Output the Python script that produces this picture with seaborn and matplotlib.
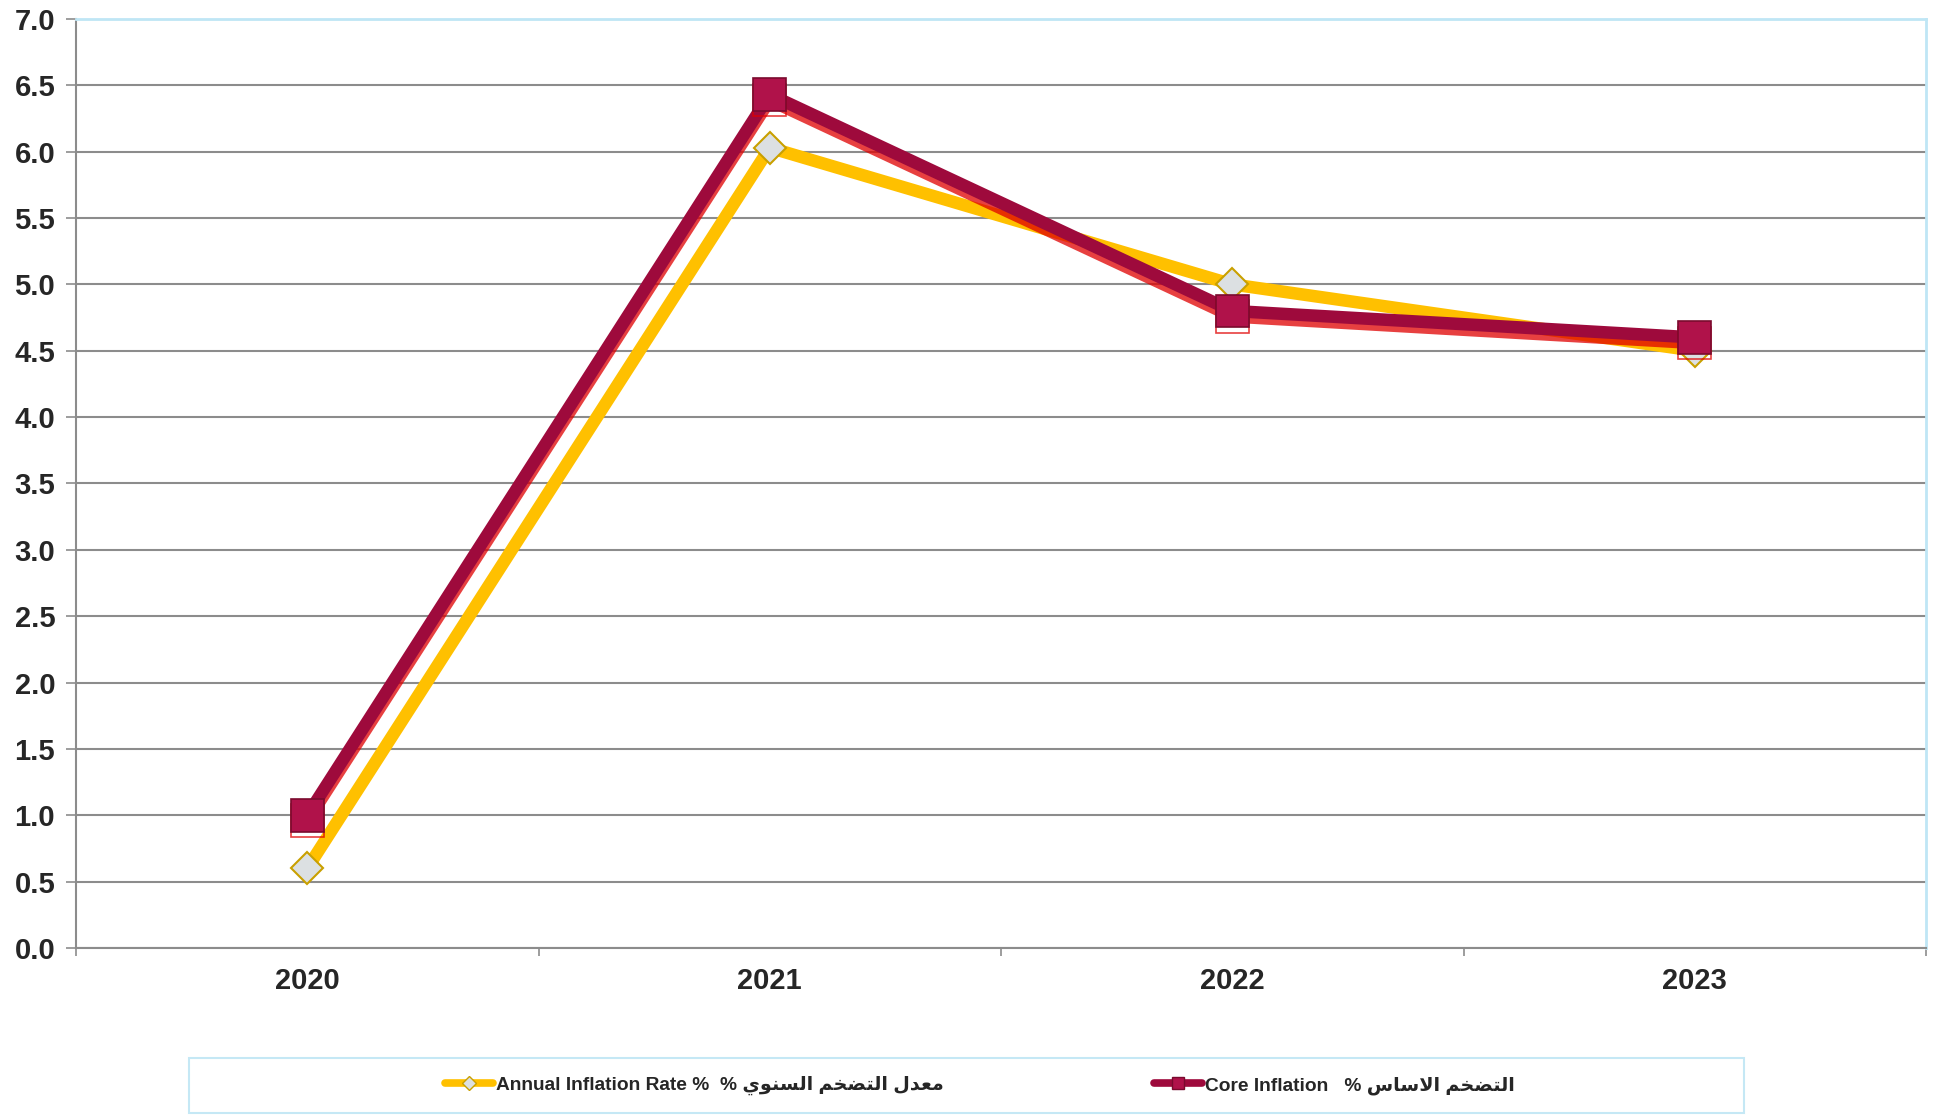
import matplotlib
matplotlib.use("Agg")
import matplotlib.pyplot as plt
import matplotlib.patheffects as pe
from matplotlib.lines import Line2D
from matplotlib.patches import Rectangle
import seaborn as sns
import pandas as pd

years = ["2020", "2021", "2022", "2023"]
annual_inflation = [0.6, 6.03, 5.0, 4.5]
core_inflation = [1.0, 6.43, 4.8, 4.6]
y_ticks = [i * 0.5 for i in range(15)]

# Arabic text pre-shaped (presentation forms, visual order)
ar_annual = "\uFEF1\uFEEE\uFEE8\uFEB4\uFEDF\uFE8D \uFEE2\uFEA8\uFEC0\uFE98\uFEDF\uFE8D \uFEDD\uFEAA\uFECC\uFEE3"
ar_core = "\uFEB1\uFE8E\uFEB3\uFEFB\uFE8D \uFEE2\uFEA8\uFEC0\uFE98\uFEDF\uFE8D"
label_annual = "Annual Inflation Rate %  % " + ar_annual
label_core = "Core Inflation   % " + ar_core

sns.set_theme(style="white")
plt.rcParams['font.family'] = ['Liberation Sans', 'DejaVu Sans']

df = pd.DataFrame({"year": years, "annual": annual_inflation, "core": core_inflation})

fig = plt.figure(figsize=(19.4, 11.15), dpi=100)
ax = fig.add_axes([0.0392, 0.1498, 0.9536, 0.8332])

yellow = "#FFC000"
crimson = "#9E0A3C"

sns.lineplot(data=df, x="year", y="annual", ax=ax, color=yellow, linewidth=9,
             marker="D", markersize=16.5, markerfacecolor="#DCE0E2",
             markeredgecolor="#C9A000", markeredgewidth=1.5, zorder=3)
sns.lineplot(data=df, x="year", y="core", ax=ax, color=crimson, linewidth=9,
             marker="s", markersize=23.5, markerfacecolor="#B0124A",
             markeredgecolor="#7A0A2E", markeredgewidth=1.2, zorder=4,
             path_effects=[pe.SimpleLineShadow(offset=(0, -4), shadow_color="#E00000", alpha=0.75),
                           pe.Normal()])

ax.set_xlim(-0.5, 3.5)
ax.set_ylim(0, 7.0)
ax.set_yticks(y_ticks)
ax.set_yticklabels([f"{v:.1f}" for v in y_ticks], fontsize=21, fontweight="bold")
ax.set_xticks([-0.5, 0.5, 1.5, 2.5, 3.5])
ax.set_xticklabels([])
ax.set_xticks([0, 1, 2, 3], minor=True)
ax.set_xticklabels(years, minor=True, fontsize=21, fontweight="bold")
ax.tick_params(axis="x", which="major", direction="out", length=6, width=1.2, color="#8c8c8c", bottom=True)
ax.tick_params(axis="x", which="minor", length=0, pad=14)
ax.tick_params(axis="y", direction="out", length=7, width=1.2, color="#8c8c8c", left=True, pad=8)
ax.set_xlabel("")
ax.set_ylabel("")

ax.yaxis.grid(True, color="#8c8c8c", linewidth=1.5)
ax.xaxis.grid(False)
ax.set_axisbelow(True)
for s in ["left", "bottom"]:
    ax.spines[s].set_color("#8c8c8c")
    ax.spines[s].set_linewidth(1.5)
for s in ["top", "right"]:
    ax.spines[s].set_color("#BFE6F5")
    ax.spines[s].set_linewidth(2)

# legend box
fig.patches.append(Rectangle((0.0974, 0.0018), 0.8015, 0.049, transform=fig.transFigure,
                             facecolor="white", edgecolor="#C5E8F5", linewidth=1.5, zorder=0))

handles = [
    Line2D([], [], color=yellow, linewidth=5.5, marker="D", markersize=7,
           markerfacecolor="#DCE0E2", markeredgecolor="#C9A000"),
    Line2D([], [], color=crimson, linewidth=5.5, marker="s", markersize=9,
           markerfacecolor="#B0124A", markeredgecolor="#7A0A2E"),
]
leg = fig.legend(handles, [label_annual, label_core], loc="center",
                 bbox_to_anchor=(0.505, 0.0263), ncol=2, frameon=False,
                 handlelength=2.5, handletextpad=0.15, columnspacing=11,
                 prop={"size": 13.8, "weight": "bold"})

fig.savefig("out.png", dpi=100)
